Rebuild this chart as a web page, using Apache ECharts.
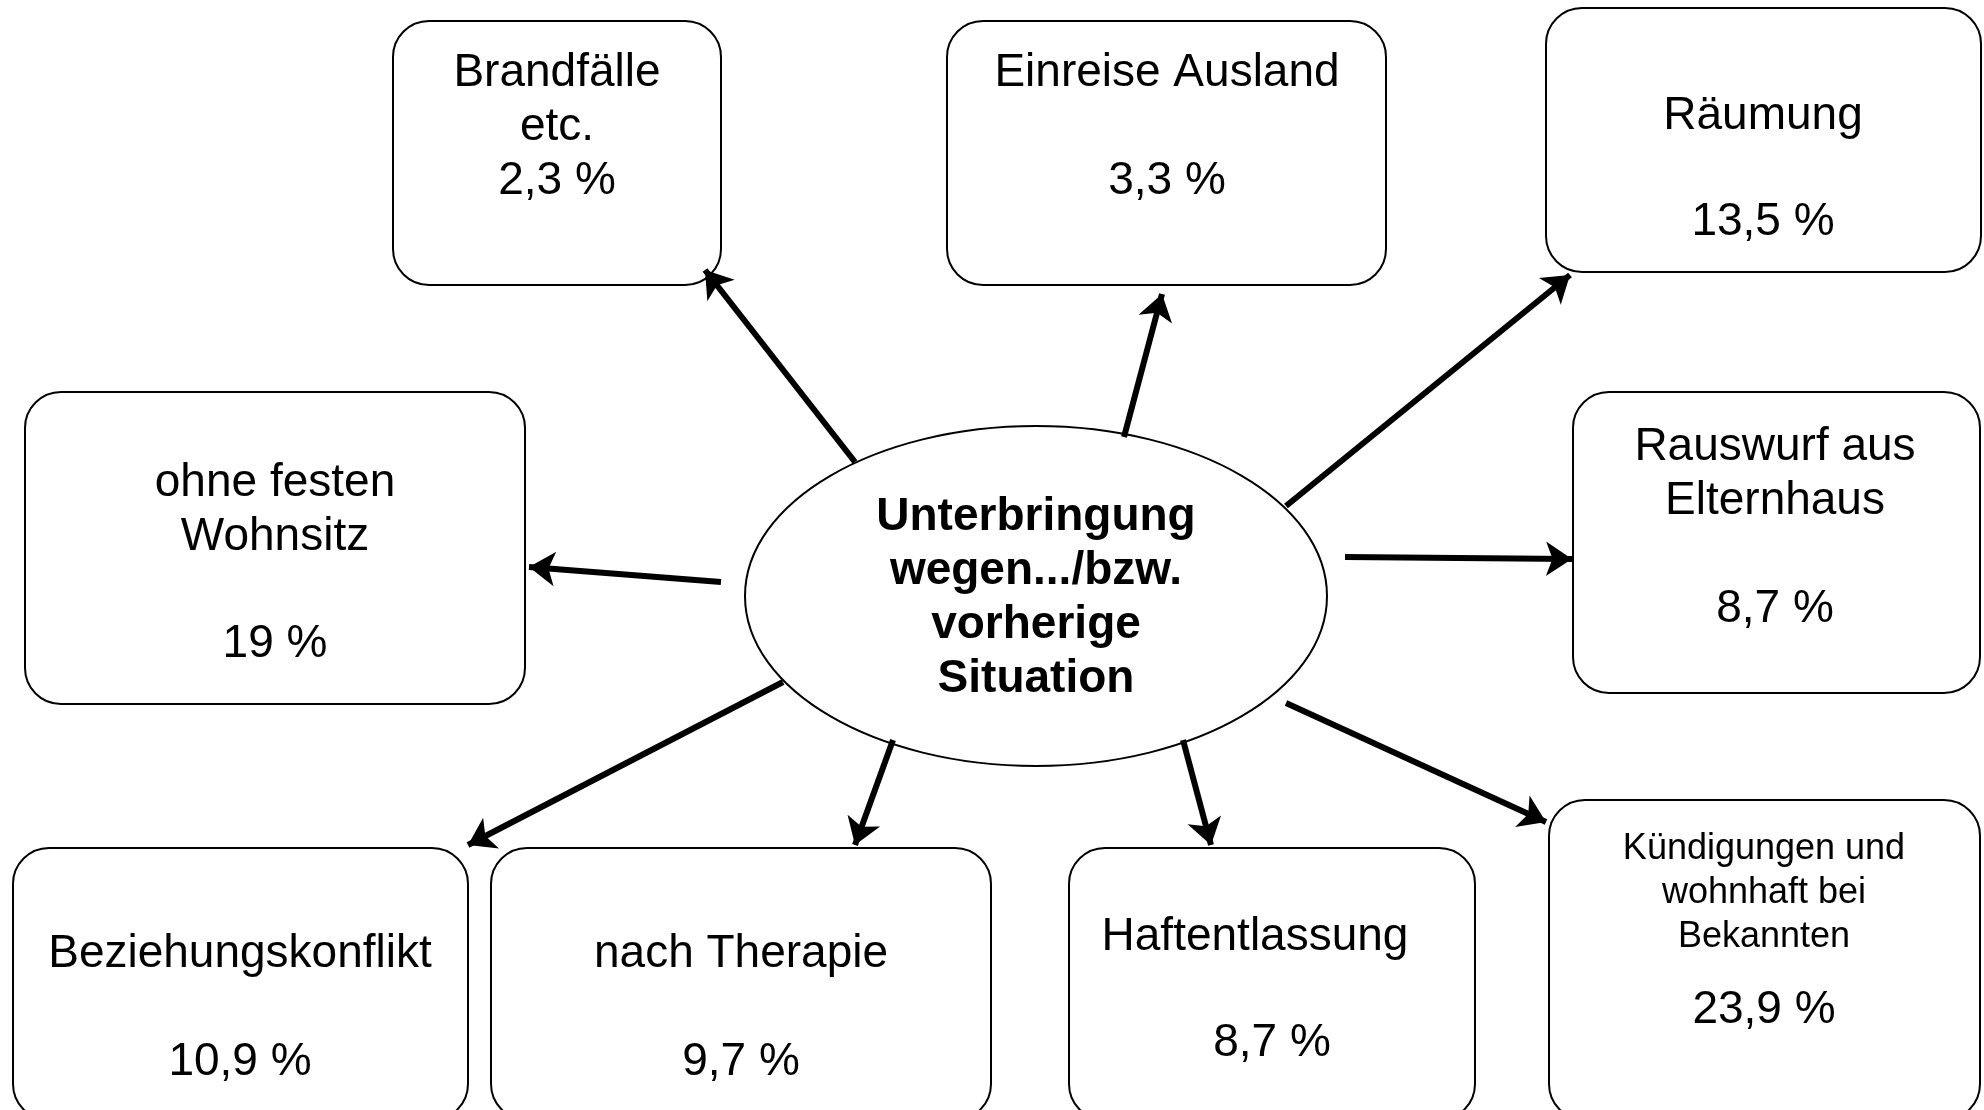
<!DOCTYPE html>
<html>
<head>
<meta charset="utf-8">
<style>
    html, body { margin: 0; padding: 0; background: #fff; }
    #chart { width: 1984px; height: 1110px; }
</style>
<script src="https://cdn.jsdelivr.net/npm/echarts@6/dist/echarts.min.js"></script>
</head>
<body>
<div id="chart"></div>
<script>
// Kategorien und Anteile (%)
const categories = [
    'Brandfälle\netc.',
    'Einreise Ausland',
    'Räumung',
    'ohne festen\nWohnsitz',
    'Rauswurf aus\nElternhaus',
    'Beziehungskonflikt',
    'nach Therapie',
    'Haftentlassung',
    'Kündigungen und\nwohnhaft bei\nBekannten'
]
const shares = [2.3, 3.3, 13.5, 19, 8.7, 10.9, 9.7, 8.7, 23.9]
const centerTitle = 'Unterbringung\nwegen.../bzw.\nvorherige\nSituation'

// Layout in Pixeln (y nach unten)
const boxRects = [
    [393, 21, 721, 285],
    [947, 21, 1386, 285],
    [1546, 8, 1981, 272],
    [25, 392, 525, 704],
    [1573, 392, 1980, 693],
    [13, 848, 468, 1120],
    [491, 848, 991, 1120],
    [1069, 848, 1475, 1120],
    [1549, 800, 1980, 1120]
]
const labelPos = [
    [557, 100], [1167, 73], [1763, 116], [275, 510], [1775, 474],
    [240, 954], [741, 954], [1255, 937], [1764, 893]
]
const valuePos = [
    [557, 181], [1167, 181], [1763, 222], [275, 644], [1775, 609],
    [240, 1062], [741, 1062], [1272, 1043], [1764, 1010]
]
const labelSize = [46, 46, 46, 46, 46, 46, 46, 46, 36]
const labelLineHeight = [54, 54, 54, 54, 54, 54, 54, 54, 44]
const arrowFrom = [
    [855, 462], [1124, 437], [1286, 506], [721, 582], [1345, 557],
    [783, 682], [893, 740], [1183, 740], [1286, 703]
]
const arrowTo = [
    [705, 270], [1162, 294], [1570, 275], [529, 567], [1572, 559],
    [468, 845], [855, 845], [1211, 845], [1546, 822]
]
const ellipseShape = [1036, 596, 291, 170]

const fontFamily = '"Liberation Sans", Arial, sans-serif'

function fmt(v) {
    return String(v).replace('.', ',') + ' %'
}

const arrowData = arrowFrom.map((a, i) => ({ coords: [a, arrowTo[i]] }))

const chart = echarts.init(document.getElementById('chart'))
chart.setOption({
    animation: false,
    backgroundColor: '#fff',
    grid: { left: 0, right: 0, top: 0, bottom: 0 },
    xAxis: { type: 'value', min: 0, max: 1984, show: false },
    yAxis: { type: 'value', min: 0, max: 1110, inverse: true, show: false },
    series: [
        {
            type: 'lines',
            coordinateSystem: 'cartesian2d',
            z: 3,
            symbol: ['none', 'arrow'],
            symbolSize: 26,
            lineStyle: { color: '#000', width: 6, opacity: 1, curveness: 0 },
            data: arrowData
        },
        {
            type: 'custom',
            z: 2,
            data: boxRects,
            renderItem(params, api) {
                const i = params.dataIndex
                const p0 = api.coord([api.value(0), api.value(1)])
                const p1 = api.coord([api.value(2), api.value(3)])
                const lp = api.coord(labelPos[i])
                const vp = api.coord(valuePos[i])
                return {
                    type: 'group',
                    children: [
                        {
                            type: 'rect',
                            shape: { x: p0[0], y: p0[1], width: p1[0] - p0[0], height: p1[1] - p0[1], r: 36 },
                            style: { fill: '#fff', stroke: '#000', lineWidth: 2 }
                        },
                        {
                            type: 'text',
                            style: {
                                x: lp[0], y: lp[1], text: categories[i],
                                fontSize: labelSize[i], lineHeight: labelLineHeight[i],
                                fontFamily: fontFamily, fill: '#000',
                                align: 'center', verticalAlign: 'middle'
                            }
                        },
                        {
                            type: 'text',
                            style: {
                                x: vp[0], y: vp[1], text: fmt(shares[i]),
                                fontSize: 46, fontFamily: fontFamily, fill: '#000',
                                align: 'center', verticalAlign: 'middle'
                            }
                        }
                    ]
                }
            }
        },
        {
            type: 'custom',
            z: 2,
            data: [ellipseShape],
            renderItem(params, api) {
                const c = api.coord([api.value(0), api.value(1)])
                const r = api.size([api.value(2), api.value(3)])
                return {
                    type: 'group',
                    children: [
                        {
                            type: 'ellipse',
                            shape: { cx: c[0], cy: c[1], rx: r[0], ry: r[1] },
                            style: { fill: '#fff', stroke: '#000', lineWidth: 2 }
                        },
                        {
                            type: 'text',
                            style: {
                                x: c[0], y: c[1] + 2, text: centerTitle,
                                fontSize: 46, fontWeight: 'bold', lineHeight: 54,
                                fontFamily: fontFamily, fill: '#000',
                                align: 'center', verticalAlign: 'middle'
                            }
                        }
                    ]
                }
            }
        }
    ]
})
</script>
</body>
</html>
